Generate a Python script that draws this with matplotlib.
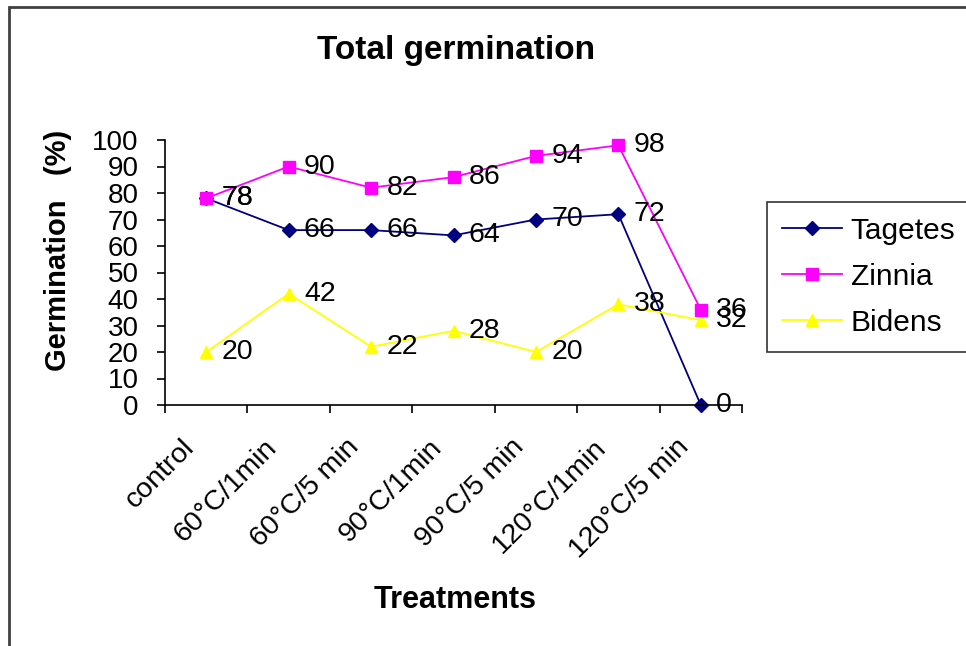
import matplotlib
matplotlib.use("Agg")
import matplotlib.pyplot as plt
from matplotlib.patches import Rectangle
import matplotlib.transforms as mtransforms
import numpy as np

plt.rcParams['font.family'] = ['Liberation Sans', 'DejaVu Sans']

treatments = ["control", "60\u00b0C/1min", "60\u00b0C/5 min", "90\u00b0C/1min",
              "90\u00b0C/5 min", "120\u00b0C/1min", "120\u00b0C/5 min"]
tagetes = [78, 66, 66, 64, 70, 72, 0]
zinnia = [78, 90, 82, 86, 94, 98, 36]
bidens = [20, 42, 22, 28, 20, 38, 32]

x = np.arange(len(treatments))

fig = plt.figure(figsize=(9.66, 6.46), dpi=100)
ax = fig.add_axes([165/966, 1 - 405/646, (742 - 165)/966, (405 - 140)/646])

# rahmen ala excel chart area
fig.patches.append(Rectangle((9/966, -0.1), 1.2, 1 - 7/646 + 0.1, transform=fig.transFigure,
                             fill=False, edgecolor="#404040", linewidth=2))

series = [
    ("Tagetes", tagetes, "#000080", "D", 7.5),
    ("Bidens", bidens, "#FFFF00", "^", 9),
    ("Zinnia", zinnia, "#FF00FF", "s", 9),
]
handles = {}
for name, vals, col, mk, ms in series:
    h, = ax.plot(x, vals, color=col, marker=mk, markersize=ms, linewidth=1.3,
                 markeredgecolor=col, clip_on=False, label=name)
    handles[name] = h
    for xi, v in zip(x, vals):
        ax.annotate(str(v), (xi, v), xytext=(11, 0), textcoords="offset points",
                    ha="left", va="center", fontsize=20.5, color="black")

ax.set_xlim(-0.5, 6.5)
ax.set_ylim(0, 100)
ax.set_yticks(range(0, 101, 10))
ax.tick_params(axis="y", labelsize=20, length=6, width=1.2, pad=13)

ax.set_xticks(x)
ax.set_xticklabels(treatments, rotation=45, ha="right", va="top",
                   rotation_mode="anchor", fontsize=20.5)
ax.tick_params(axis="x", which="major", length=0, pad=21)
geser = mtransforms.ScaledTranslation(-25/100, 0, fig.dpi_scale_trans)
for lbl in ax.get_xticklabels():
    lbl.set_transform(lbl.get_transform() + geser)
ax.set_xticks(np.arange(-0.5, 7, 1), minor=True)
ax.tick_params(axis="x", which="minor", length=6, width=1.2)

for s in ["top", "right"]:
    ax.spines[s].set_visible(False)
ax.spines["left"].set_linewidth(1.2)
ax.spines["bottom"].set_linewidth(1.2)

fig.text(58/966, 1 - 250/646, "Germination   (%)", rotation=90, ha="center", va="center",
         fontsize=21, fontweight="bold")
fig.text(455/966, 1 - 600/646, "Treatments", ha="center", va="center",
         fontsize=22, fontweight="bold")
fig.text(456/966, 1 - 50/646, "Total germination", ha="center", va="center",
         fontsize=24, fontweight="bold")

leg = fig.legend([handles["Tagetes"], handles["Zinnia"], handles["Bidens"]],
                 ["Tagetes", "Zinnia", "Bidens"], loc="upper left",
                 bbox_to_anchor=(767/966, 1 - 202/646), fontsize=21.5, frameon=True,
                 fancybox=False, edgecolor="black", handlelength=2.0, borderpad=0.5,
                 labelspacing=0.6, handletextpad=0.3, borderaxespad=0)
leg.get_frame().set_linewidth(1.2)

fig.savefig("out.png", dpi=100)
